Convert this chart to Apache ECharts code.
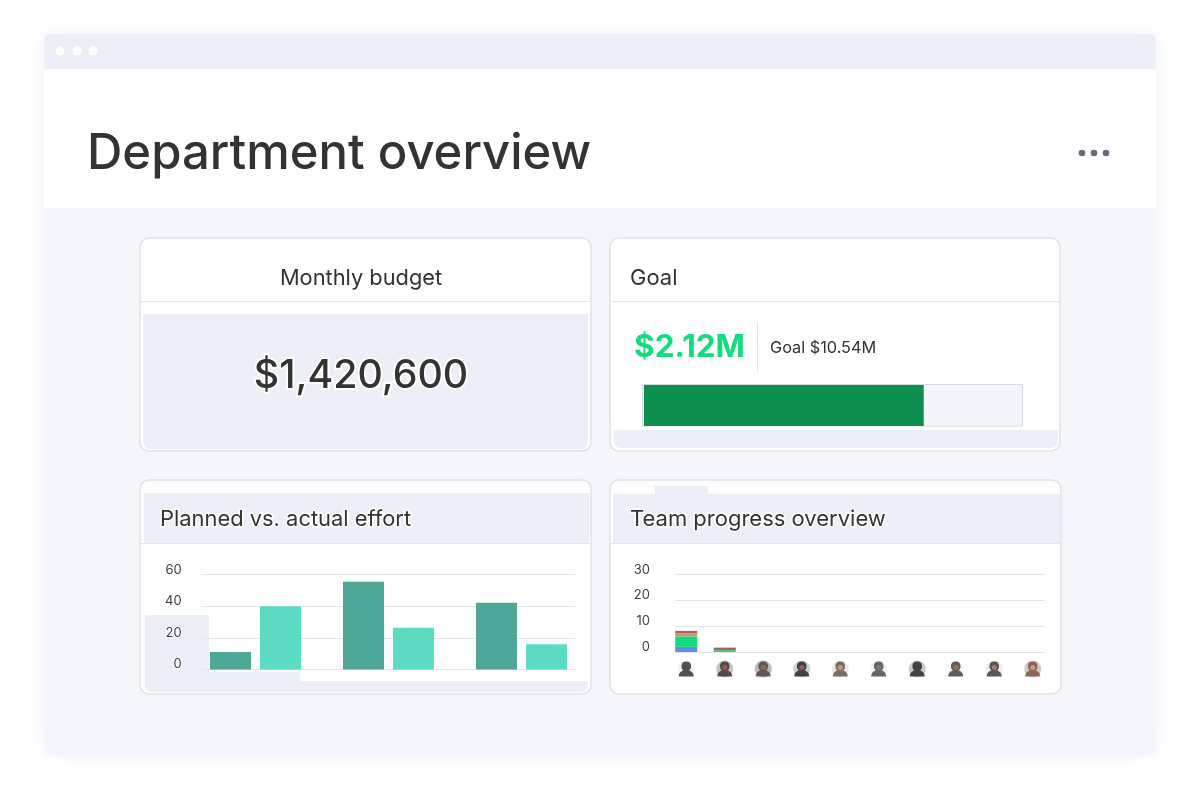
<!DOCTYPE html>
<html lang="en">
<head>
    <meta charset="UTF-8">
    <title>Department overview</title>
    <script src="https://cdn.jsdelivr.net/npm/echarts@6/dist/echarts.min.js"></script>
    <style>
        html, body { margin: 0; padding: 0; background: #fff; }
        #main { width: 1200px; height: 785px; }
    </style>
</head>
<body>
    <div id="main"></div>

    <script>
        // data
        var effortGroups = ['A', 'B', 'C'];
        var plannedEffort = [11, 55.5, 42.3];
        var actualEffort = [40, 26.5, 16];
        var effortTicks = [0, 20, 40, 60];

        var teamMembers = ['1', '2', '3', '4', '5', '6', '7', '8', '9', '10'];
        var teamBlue = [2, 0, 0, 0, 0, 0, 0, 0, 0, 0];
        var teamGreen = [4.1, 0.7, 0, 0, 0, 0, 0, 0, 0, 0];
        var teamOrange = [1.2, 0, 0, 0, 0, 0, 0, 0, 0, 0];
        var teamRed = [0.9, 1, 0, 0, 0, 0, 0, 0, 0, 0];
        var avatarBacks = ['#f0f0f0', '#b4b4b4', '#a8a8a8', '#c4c4c4', '#e2e2e2', '#efeff1', '#bdbdbd', '#f7f7f7', '#e8e8e8', '#c4bebb'];
        var avatarHair = ['#2a2828', '#3a2c2c', '#4a3e3a', '#1f1c1d', '#5a4c46', '#47413f', '#201e1f', '#3c3432', '#33302f', '#7a4a3c'];
        var avatarFace = ['#5a4a46', '#b5564c', '#a06a58', '#b0605c', '#e2a27c', '#8c7a70', '#4a4040', '#a8705c', '#b08a78', '#e0a284'];

        var goalProgress = [74];

        var fontName = 'Inter, "Noto Sans", sans-serif';
        var textColor = '#333333';
        var lavender = '#eceff8';
        var lineColor = '#e3e5ec';
        var personPath = 'path://M10 2C7 2 5.5 4.2 5.5 7C5.5 9 6.2 10.6 7.4 11.6C5 12.4 3 14.2 3 18L17 18C17 14.2 15 12.4 12.6 11.6C13.8 10.6 14.5 9 14.5 7C14.5 4.2 13 2 10 2Z';

        var mycharts = echarts.init(document.getElementById('main'));

        function rect(x, y, w, h, fill, r, extra) {
            var el = {
                type: 'rect', z: -5,
                shape: { x: x, y: y, width: w, height: h, r: r || 0 },
                style: { fill: fill }
            };
            if (extra) {
                for (var k in extra) {
                    if (k === 'z') el.z = extra[k];
                    else el.style[k] = extra[k];
                }
            }
            return el;
        }

        function card(x, y, w, h) {
            return rect(x, y, w, h, '#fff', 9, { stroke: '#e0e2e9', lineWidth: 1.5, z: -6 });
        }

        function label(text, x, y, size, color, weight, extra) {
            var style = { text: text, x: x, y: y, font: (weight || 400) + ' ' + size + 'px ' + fontName, fill: color, verticalAlign: 'middle', align: 'left' };
            if (extra) {
                for (var k in extra) style[k] = extra[k];
            }
            return { type: 'text', z: 10, style: style };
        }

        function dot(cx, cy, r, fill) {
            return { type: 'circle', z: 5, shape: { cx: cx, cy: cy, r: r }, style: { fill: fill } };
        }

        var elements = [
            // page frame
            rect(44, 34, 1112, 721, '#f5f6fb', 8, { shadowBlur: 20, shadowColor: 'rgba(170,178,205,0.16)', z: -10 }),
            rect(44, 68, 1112, 140, '#fff', 0, { z: -9 }),
            rect(44, 34, 1112, 35, lavender, [6, 6, 0, 0], { z: -8 }),
            dot(60, 51, 4.5, '#fff'), dot(77, 51, 4.5, '#fff'), dot(93, 51, 4.5, '#fff'),
            dot(1082, 153, 3.3, '#676879'), dot(1094, 153, 3.3, '#676879'), dot(1106, 153, 3.3, '#676879'),
            label('Department overview', 87, 154, 49, textColor, 500),

            // cards
            card(140, 238, 451, 213),
            card(610, 238, 450, 213),
            card(140, 480, 451, 214),
            card(610, 480, 451, 214),
            rect(141, 301, 449, 1, lineColor),
            rect(611, 301, 448, 1, lineColor),
            rect(141, 543, 449, 1, lineColor, 0, { z: -3 }),
            rect(611, 543, 449, 1, lineColor, 0, { z: -3 }),

            // the uneven lavender patches
            rect(143, 314, 445, 135, lavender, [0, 0, 7, 7]),
            rect(614, 430, 444, 18, lavender, [0, 0, 7, 7]),
            rect(144, 493, 445, 50, lavender),
            rect(145, 615, 64, 77, lavender, [0, 0, 0, 7]),
            rect(209, 672, 91, 20, lavender),
            rect(300, 681, 288, 11, lavender, [0, 0, 7, 0]),
            rect(613, 494, 447, 49, lavender),
            rect(655, 486, 53, 8, lavender),

            // card text
            label('Monthly budget', 361, 278, 21.8, textColor, 400, { align: 'center' }),
            label('Goal', 630, 278, 22, textColor, 400),
            label('$1,420,600', 361, 376, 39.3, textColor, 500, { align: 'center', stroke: '#fff', lineWidth: 4 }),
            label('$2.12M', 634, 348, 31.5, '#13dc7c', 700),
            rect(757, 322, 1, 50, lineColor),
            label('Goal $10.54M', 770, 348, 16.3, textColor, 400),
            label('Planned vs. actual effort', 160, 519, 21.9, textColor, 400, { stroke: '#fff', lineWidth: 3 }),
            label('Team progress overview', 630, 519, 22, textColor, 400, { stroke: '#fff', lineWidth: 3 }),

            // progress track
            rect(642.5, 384.5, 380, 41.5, '#f4f5fa', 0, { stroke: '#d9dbe3', lineWidth: 1 })
        ];

        // grids 0 and 1 only carry the gridlines and the tick labels
        function yAxisFor(gridIndex, max, interval, margin) {
            return {
                type: 'value', gridIndex: gridIndex, min: 0, max: max, interval: interval,
                axisLine: { show: false }, axisTick: { show: false },
                axisLabel: {
                    margin: margin, fontFamily: fontName, fontSize: 13, color: '#3f4045',
                    verticalAlign: 'bottom', lineHeight: 10, textBorderColor: '#fff', textBorderWidth: 2
                },
                splitLine: { lineStyle: { color: '#e4e5eb', width: 1 } }
            };
        }

        function hiddenValueY(gridIndex, max) {
            return { type: 'value', gridIndex: gridIndex, min: 0, max: max, show: false };
        }

        function hiddenCategoryX(gridIndex, data) {
            return { type: 'category', gridIndex: gridIndex, data: data, show: false };
        }

        function emptyX(gridIndex) {
            return { type: 'value', gridIndex: gridIndex, min: 0, max: 1, show: false };
        }

        function teamSeries(values, color) {
            return {
                type: 'bar', xAxisIndex: 3, yAxisIndex: 3, stack: 'team', barWidth: 22,
                itemStyle: { color: color },
                data: values
            };
        }

        function avatarSeries(size, symbol, colors, z, offset) {
            return {
                type: 'scatter', xAxisIndex: 4, yAxisIndex: 4, symbol: symbol, symbolSize: size, symbolOffset: offset || [0, 0], silent: true, z: z,
                data: teamMembers.map(function (m, i) {
                    return { value: [m, 1], itemStyle: { color: colors[i] } };
                })
            };
        }

        var option = {
            animation: false,
            graphic: { elements: elements },
            grid: [
                { left: 201.7, top: 574.7, width: 373.3, height: 94.8 },
                { left: 675, top: 574.7, width: 370, height: 77.3 },
                { left: 189, top: 574.7, width: 399, height: 94.8 },
                { left: 667, top: 574.7, width: 385, height: 77.3 },
                { left: 667, top: 660, width: 385, height: 18 },
                { left: 644, top: 385, width: 378, height: 41 }
            ],
            xAxis: [
                emptyX(0),
                emptyX(1),
                hiddenCategoryX(2, effortGroups),
                hiddenCategoryX(3, teamMembers),
                hiddenCategoryX(4, teamMembers),
                { type: 'value', gridIndex: 5, min: 0, max: 100, show: false }
            ],
            yAxis: [
                yAxisFor(0, effortTicks[3], 20, 20),
                yAxisFor(1, 30, 10, 25),
                hiddenValueY(2, effortTicks[3]),
                hiddenValueY(3, 30),
                hiddenValueY(4, 2),
                { type: 'category', gridIndex: 5, data: ['Goal'], show: false }
            ],
            series: [
                {
                    type: 'bar', xAxisIndex: 2, yAxisIndex: 2, barWidth: 41, barGap: '22%',
                    itemStyle: { color: '#4fa897' },
                    data: plannedEffort
                },
                {
                    type: 'bar', xAxisIndex: 2, yAxisIndex: 2, barWidth: 41, barGap: '22%',
                    itemStyle: { color: '#5bdcc3' },
                    data: actualEffort
                },
                teamSeries(teamBlue, '#5f8ee8'),
                teamSeries(teamGreen, '#13dc7c'),
                teamSeries(teamOrange, '#d8956a'),
                teamSeries(teamRed, '#b0605c'),
                avatarSeries(17, 'circle', avatarBacks, 2),
                avatarSeries(15, personPath, avatarHair, 3, [0, 0]),
                avatarSeries(5, 'circle', avatarFace, 4, [0, -1.5]),
                {
                    type: 'bar', xAxisIndex: 5, yAxisIndex: 5, barWidth: 41,
                    itemStyle: { color: '#0e8f50' },
                    data: goalProgress
                }
            ]
        };

        mycharts.setOption(option);
    </script>
</body>
</html>
